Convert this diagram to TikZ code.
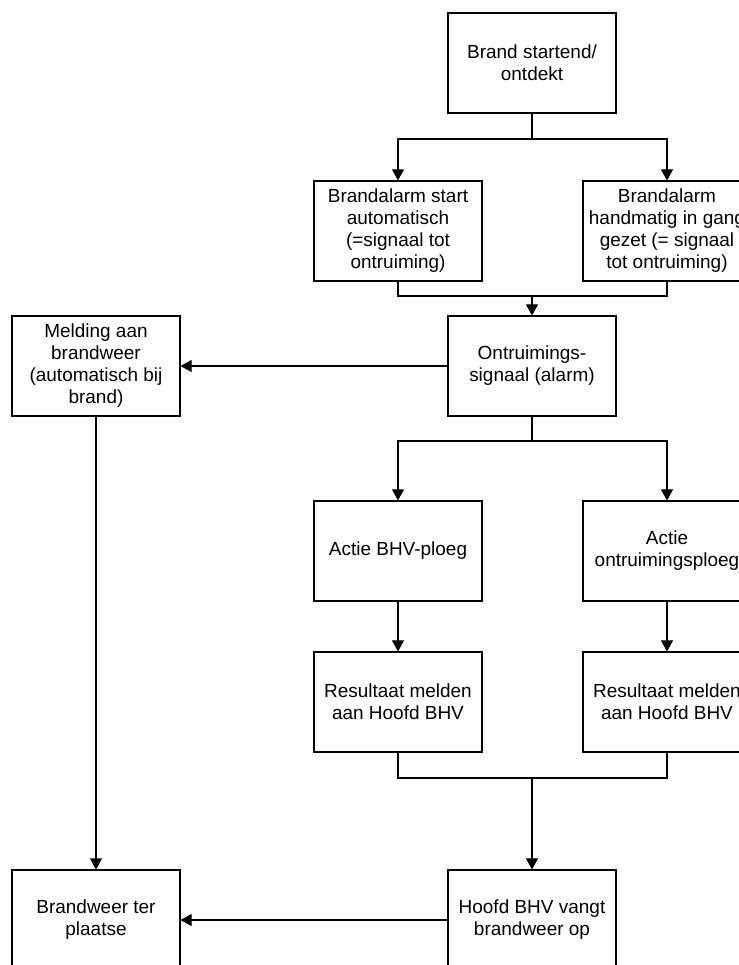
\documentclass[tikz,border=0pt]{standalone}
\usepackage{fontspec}
\setmainfont{Liberation Sans}
\usepackage{tikz}
\usetikzlibrary{arrows.meta,positioning}

\begin{document}
\begin{tikzpicture}[x=0.02cm,y=-0.02cm,>={Triangle[length=6.3pt,width=6.8pt]},line width=0.6pt]
\tikzstyle{b}=[rectangle,draw,minimum width=3.36cm,minimum height=2cm,align=center,inner sep=1pt,font=\fontsize{10.8}{12.5}\selectfont]
\useasboundingbox (0,0) rectangle (739,965);
\clip (0,0) rectangle (739,965);
\node[b] (start) at (532,63) {Brand startend/\\ontdekt};
\node[b] (auto) at (398,231) {Brandalarm start\\automatisch\\(=signaal tot\\ontruiming)};
\node[b] (hand) at (667,231) {Brandalarm\\handmatig in gang\\gezet (= signaal\\tot ontruiming)};
\node[b] (alarm) at (532,366) {Ontruimings-\\signaal (alarm)};
\node[b] (meld) at (96,366) {Melding aan\\brandweer\\(automatisch bij\\brand)};
\node[b] (bhv) at (398,551) {Actie BHV-ploeg};
\node[b] (ontr) at (667,551) {Actie\\ontruimingsploeg};
\node[b] (res1) at (398,702) {Resultaat melden\\aan Hoofd BHV};
\node[b] (res2) at (667,702) {Resultaat melden\\aan Hoofd BHV};
\node[b] (hoofd) at (532,920) {Hoofd BHV vangt\\brandweer op};
\node[b] (bw) at (96,920) {Brandweer ter\\plaatse};
\coordinate (s1) at (532,139);
\coordinate (j1) at (532,296);
\coordinate (s2) at (532,441);
\coordinate (j2) at (532,778);
\draw (start) -- (s1);
\draw[->] (s1) -| (auto);
\draw[->] (s1) -| (hand);
\draw (auto) |- (j1);
\draw (hand) |- (j1);
\draw[->] (j1) -- (alarm);
\draw[->] (alarm) -- (meld);
\draw (alarm) -- (s2);
\draw[->] (s2) -| (bhv);
\draw[->] (s2) -| (ontr);
\draw[->] (bhv) -- (res1);
\draw[->] (ontr) -- (res2);
\draw (res1) |- (j2);
\draw (res2) |- (j2);
\draw[->] (j2) -- (hoofd);
\draw[->] (meld) -- (bw);
\draw[->] (hoofd) -- (bw);
\end{tikzpicture}
\end{document}
